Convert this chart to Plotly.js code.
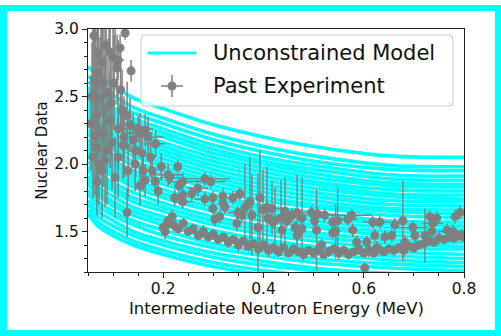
<!DOCTYPE html>
<html><head><meta charset="utf-8">
<script src="https://cdn.plot.ly/plotly-3.0.1.min.js"></script>
<style>
html,body{margin:0;padding:0;background:#fff;}
#wrap{position:relative;width:501px;height:336px;overflow:hidden;}
#chart{width:501px;height:336px;}
#frame{position:absolute;left:0;top:5px;width:501px;height:331px;box-sizing:border-box;border:6px solid #00ffff;border-left-width:7px;pointer-events:none;}
</style>
</head><body><div id="wrap"><div id="chart"></div><div id="frame"></div></div>
<script>
// ---- Data ----
const modelX = [0.05,0.07,0.10,0.14,0.20,0.30,0.40,0.50,0.65,0.80];
const modelCurves = [
 [1.63,1.54,1.47,1.40,1.33,1.24,1.18,1.14,1.10,1.08],
 [1.66,1.57,1.50,1.43,1.36,1.27,1.21,1.17,1.13,1.11],
 [1.70,1.61,1.54,1.47,1.40,1.31,1.25,1.21,1.16,1.14],
 [1.73,1.65,1.58,1.50,1.43,1.34,1.28,1.23,1.19,1.17],
 [1.78,1.69,1.62,1.55,1.47,1.38,1.32,1.27,1.23,1.21],
 [1.81,1.72,1.65,1.58,1.51,1.41,1.35,1.30,1.26,1.24],
 [1.85,1.77,1.69,1.62,1.55,1.45,1.38,1.34,1.29,1.27],
 [1.88,1.80,1.72,1.65,1.58,1.48,1.41,1.37,1.32,1.30],
 [1.91,1.83,1.76,1.68,1.61,1.51,1.44,1.39,1.35,1.33],
 [1.95,1.87,1.80,1.72,1.65,1.55,1.48,1.43,1.38,1.37],
 [1.98,1.90,1.83,1.75,1.68,1.58,1.51,1.46,1.41,1.39],
 [2.02,1.94,1.86,1.79,1.71,1.61,1.54,1.49,1.44,1.42],
 [2.06,1.98,1.91,1.83,1.75,1.65,1.58,1.53,1.47,1.46],
 [2.09,2.01,1.94,1.86,1.78,1.68,1.61,1.55,1.50,1.49],
 [2.12,2.04,1.97,1.89,1.81,1.71,1.64,1.58,1.53,1.51],
 [2.15,2.08,2.00,1.92,1.85,1.74,1.67,1.61,1.56,1.54],
 [2.18,2.11,2.03,1.95,1.88,1.77,1.69,1.64,1.58,1.57],
 [2.22,2.15,2.07,1.99,1.92,1.81,1.73,1.68,1.62,1.60],
 [2.25,2.18,2.11,2.02,1.95,1.84,1.76,1.70,1.65,1.63],
 [2.29,2.21,2.14,2.06,1.98,1.87,1.79,1.73,1.67,1.66],
 [2.32,2.25,2.17,2.09,2.01,1.90,1.82,1.76,1.70,1.69],
 [2.35,2.28,2.20,2.12,2.04,1.93,1.85,1.79,1.73,1.72],
 [2.38,2.31,2.23,2.15,2.07,1.96,1.88,1.82,1.76,1.74],
 [2.41,2.34,2.27,2.18,2.10,1.99,1.91,1.85,1.78,1.77],
 [2.44,2.38,2.30,2.21,2.13,2.02,1.94,1.87,1.81,1.80],
 [2.47,2.41,2.33,2.24,2.16,2.05,1.97,1.90,1.84,1.83],
 [2.50,2.44,2.36,2.27,2.20,2.08,2.00,1.93,1.86,1.85],
 [2.54,2.47,2.39,2.31,2.23,2.11,2.02,1.96,1.89,1.88],
 [2.57,2.50,2.42,2.34,2.26,2.14,2.05,1.99,1.92,1.91],
 [2.61,2.55,2.47,2.38,2.30,2.18,2.09,2.02,1.96,1.95],
 [2.65,2.59,2.51,2.42,2.34,2.22,2.13,2.06,1.99,1.98],
 [2.72,2.66,2.58,2.49,2.41,2.29,2.20,2.13,2.06,2.05]
];

// Past experiment: low-energy cluster
const lowX = [0.124,0.114,0.100,0.110,0.136,0.108,0.094,0.070,0.084,0.070,0.064,0.080,0.090,0.074,0.084,0.118,0.068,0.094,0.128,0.134,0.110,0.080,0.154,0.164,0.170,0.140,0.120,0.098,0.064,0.068,0.068,0.128,0.154,0.164,0.178,0.184,0.210,0.204,0.210,0.218,0.158,0.110,0.084,0.130,0.104,0.078,0.144,0.060,0.066,0.076,0.086,0.092,0.104,0.062,0.058,0.056,0.060,0.072,0.088,0.096,0.102,0.078,0.115,0.122,0.145,0.160,0.190,0.175,0.185,0.196,0.150];
const lowY = [2.97,2.86,2.79,2.77,2.69,2.71,2.83,2.82,2.88,2.68,2.63,2.60,2.53,2.49,2.41,2.40,2.36,2.32,2.36,2.29,2.26,2.23,2.23,2.25,2.20,2.18,2.14,2.16,2.21,2.12,1.87,1.64,1.84,1.88,1.95,1.87,1.92,1.50,1.56,1.61,2.08,2.05,2.03,1.95,1.90,1.95,2.00,3.10,3.20,3.05,3.15,3.30,3.10,2.95,2.50,2.30,2.05,2.00,2.10,2.45,2.60,2.75,2.55,2.20,2.10,1.95,1.80,2.05,2.15,1.98,2.26];
const lowErrY = [0.05,0.10,0.30,0.15,0.08,0.25,0.35,0.40,0.40,0.45,0.50,0.45,0.40,0.45,0.40,0.30,0.50,0.35,0.25,0.20,0.30,0.40,0.15,0.12,0.15,0.20,0.25,0.35,0.45,0.40,0.25,0.18,0.15,0.12,0.10,0.10,0.08,0.06,0.05,0.05,0.20,0.30,0.35,0.20,0.30,0.35,0.20,0.60,0.70,0.50,0.60,0.50,0.40,0.60,0.40,0.35,0.30,0.30,0.40,0.40,0.35,0.40,0.30,0.30,0.20,0.15,0.10,0.15,0.10,0.10,0.10];
const lowErrX = [0,0,0,0.012,0,0,0,0,0,0,0,0,0,0,0,0,0,0,0,0.02,0,0,0.025,0,0.03,0,0,0,0,0,0,0,0,0,0,0,0.03,0,0,0,0,0,0,0,0,0,0,0,0,0,0,0,0,0,0,0,0,0,0,0,0,0,0,0,0,0,0,0,0.02,0,0.03];

// Past experiment: dense high-resolution set
const denseX = [0.20,0.21,0.22,0.23,0.24,0.25,0.26,0.27,0.28,0.29,0.30,0.31,0.32,0.33,0.34,0.35,0.36,0.37,0.38,0.39,0.40,0.41,0.42,0.43,0.44,0.45,0.46,0.47,0.48,0.49,0.50,0.51,0.52,0.53,0.54,0.55,0.56,0.57,0.58,0.59,0.60,0.61,0.62,0.63,0.64,0.65,0.66,0.67,0.68,0.69,0.70,0.71,0.72,0.73,0.74,0.75,0.76,0.77,0.78,0.79,0.80];
const denseY = [1.53,1.58,1.55,1.52,1.56,1.50,1.52,1.47,1.50,1.46,1.48,1.44,1.46,1.42,1.44,1.40,1.43,1.39,1.41,1.37,1.40,1.36,1.38,1.35,1.38,1.34,1.37,1.35,1.33,1.36,1.34,1.36,1.33,1.35,1.37,1.34,1.36,1.33,1.35,1.37,1.34,1.36,1.34,1.37,1.35,1.37,1.36,1.38,1.36,1.39,1.38,1.40,1.41,1.43,1.42,1.45,1.44,1.46,1.45,1.47,1.46];
const denseErrY = [0.04,0.03,0.05,0.03,0.04,0.02,0.04,0.03,0.05,0.03,0.04,0.03,0.02,0.04,0.03,0.05,0.03,0.04,0.02,0.04,0.03,0.05,0.03,0.04,0.03,0.02,0.04,0.03,0.05,0.03,0.04,0.03,0.02,0.04,0.03,0.05,0.03,0.04,0.02,0.04,0.03,0.05,0.03,0.04,0.03,0.02,0.04,0.03,0.05,0.03,0.04,0.03,0.02,0.04,0.03,0.05,0.03,0.04,0.02,0.04,0.03];

// Past experiment: sparse older measurements
const sparseX = [0.229,0.239,0.283,0.295,0.231,0.269,0.257,0.239,0.223,0.239,0.299,0.283,0.319,0.339,0.353,0.373,0.393,0.319,0.323,0.299,0.349,0.357,0.303,0.313,0.347,0.407,0.417,0.409,0.419,0.389,0.443,0.457,0.467,0.447,0.463,0.467,0.437,0.477,0.496,0.502,0.506,0.213,0.508,0.522,0.538,0.548,0.568,0.576,0.538,0.578,0.516,0.586,0.606,0.618,0.632,0.622,0.642,0.626,0.602,0.662,0.678,0.682,0.698,0.702,0.732,0.746,0.738,0.736,0.766,0.782,0.792,0.778,0.796,0.656,0.363,0.377,0.399,0.423,0.435,0.477,0.544,0.722];
const sparseY = [1.98,1.87,1.89,1.87,1.84,1.82,1.78,1.77,1.75,1.72,1.75,1.74,1.76,1.75,1.78,1.72,1.75,1.71,1.68,1.67,1.64,1.62,1.59,1.61,1.56,1.68,1.67,1.60,1.57,1.53,1.65,1.62,1.64,1.58,1.53,1.47,1.51,1.52,1.64,1.58,1.51,1.90,1.63,1.62,1.57,1.58,1.59,1.62,1.49,1.51,1.40,1.42,1.42,1.57,1.57,1.47,1.46,1.38,1.23,1.55,1.58,1.42,1.53,1.47,1.61,1.60,1.56,1.50,1.51,1.61,1.64,1.50,1.47,1.47,1.68,1.62,1.66,1.58,1.60,1.60,1.50,1.47];
const sparseErrY = [0.05,0.06,0.05,0.05,0.05,0.06,0.05,0.05,0.06,0.05,0.05,0.05,0.06,0.05,0.05,0.33,0.35,0.05,0.05,0.05,0.05,0.05,0.05,0.05,0.06,0.30,0.20,0.05,0.05,0.40,0.25,0.05,0.28,0.05,0.05,0.05,0.05,0.05,0.05,0.05,0.30,0.05,0.05,0.05,0.05,0.25,0.05,0.05,0.05,0.05,0.05,0.05,0.05,0.05,0.05,0.05,0.05,0.05,0.04,0.05,0.30,0.05,0.05,0.05,0.05,0.05,0.05,0.05,0.05,0.05,0.05,0.05,0.05,0.05,0.32,0.30,0.30,0.25,0.28,0.30,0.20,0.20];
const sparseErrX = [0,0.03,0.05,0.03,0,0.02,0,0,0,0.02,0,0.02,0,0.02,0,0,0,0,0,0,0.02,0,0,0,0,0,0.02,0,0,0,0,0.03,0,0,0,0,0,0,0.02,0,0,0.02,0,0.03,0,0,0.02,0.04,0,0,0,0,0,0.02,0.02,0,0,0,0,0,0,0,0.03,0,0,0,0.02,0,0,0,0,0.03,0,0,0,0,0,0,0,0,0,0];

const legendLabels = ['Unconstrained Model','Past Experiment'];
const xTitle = 'Intermediate Neutron Energy (MeV)';
const yTitle = 'Nuclear Data';

// ---- Style ----
const CYAN = '#00ffff', GRAY = '#808080';
const W = 501, H = 336, ML = 88, MR = 37, MT = 29, MB = 64;
const PW = W - ML - MR, PH = H - MT - MB;
function px(x){ return (x - ML) / PW; }
function py(y){ return (H - MB - y) / PH; }

const traces = [];
modelCurves.forEach(c => traces.push({
  x: modelX, y: c, type: 'scatter', mode: 'lines',
  line: {color: CYAN, width: 3.6, shape: 'spline', smoothing: 1},
  showlegend: false, hoverinfo: 'skip'
}));
function pts(x, y, ey, ex, lw){
  return {x: x, y: y, type: 'scatter', mode: 'markers',
    marker: {color: GRAY, size: 9, line: {width: 0}},
    error_y: {type: 'data', array: ey, visible: true, color: GRAY, thickness: lw, width: 0},
    error_x: ex ? {type: 'data', array: ex, visible: true, color: GRAY, thickness: lw, width: 0} : undefined,
    showlegend: false, hoverinfo: 'skip'};
}
traces.push(pts(lowX, lowY, lowErrY, lowErrX, 1.5));
traces.push(pts(sparseX, sparseY, sparseErrY, sparseErrX, 1.4));
traces.push(pts(denseX, denseY, denseErrY, null, 1.3));

// custom legend (rounded box)
const bx0 = px(141), bx1 = px(453), by0 = py(106), by1 = py(35);
const rx = 4 / PW, ry = 4 / PH;
const boxPath = `M ${bx0+rx},${by0} L ${bx1-rx},${by0} Q ${bx1},${by0} ${bx1},${by0+ry} L ${bx1},${by1-ry} Q ${bx1},${by1} ${bx1-rx},${by1} L ${bx0+rx},${by1} Q ${bx0},${by1} ${bx0},${by1-ry} L ${bx0},${by0+ry} Q ${bx0},${by0} ${bx0+rx},${by0} Z`;
const mcx = 172, mcy = 86, mr = 4.5;
const shapes = [
  {type: 'path', xref: 'paper', yref: 'paper', path: boxPath, fillcolor: 'rgba(255,255,255,0.8)', line: {color: '#cccccc', width: 1}, layer: 'above'},
  {type: 'line', xref: 'paper', yref: 'paper', x0: px(148), x1: px(196), y0: py(53), y1: py(53), line: {color: CYAN, width: 3}, layer: 'above'},
  {type: 'line', xref: 'paper', yref: 'paper', x0: px(161), x1: px(183), y0: py(mcy), y1: py(mcy), line: {color: GRAY, width: 1.5}, layer: 'above'},
  {type: 'line', xref: 'paper', yref: 'paper', x0: px(mcx), x1: px(mcx), y0: py(mcy - 11), y1: py(mcy + 11), line: {color: GRAY, width: 1.5}, layer: 'above'},
  {type: 'circle', xref: 'paper', yref: 'paper', x0: px(mcx - mr), x1: px(mcx + mr), y0: py(mcy + mr), y1: py(mcy - mr), fillcolor: GRAY, line: {width: 0}, layer: 'above'}
];
const annotations = [
  {xref: 'paper', yref: 'paper', x: px(211), y: py(53), xanchor: 'left', yanchor: 'middle', showarrow: false, text: legendLabels[0], font: {size: 21, color: '#111'}},
  {xref: 'paper', yref: 'paper', x: px(211), y: py(86), xanchor: 'left', yanchor: 'middle', showarrow: false, text: legendLabels[1], font: {size: 21, color: '#111'}},
  {xref: 'paper', yref: 'paper', x: px(276), y: py(308), xanchor: 'center', yanchor: 'middle', showarrow: false, text: xTitle, font: {size: 16.5, color: '#111'}}
];

const axisCommon = {
  showgrid: false, zeroline: false, showline: true, mirror: true,
  linecolor: '#222', linewidth: 1, ticks: 'outside', ticklen: 5, tickwidth: 1, tickcolor: '#222',
  tickfont: {size: 15.5, color: '#111'}
};
const layout = {
  width: W, height: H, margin: {l: ML, r: MR, t: MT, b: MB},
  paper_bgcolor: '#fff', plot_bgcolor: '#fff',
  font: {family: 'DejaVu Sans, sans-serif', color: '#111'},
  showlegend: false,
  xaxis: Object.assign({}, axisCommon, {
    range: [0.05, 0.8], tick0: 0, dtick: 0.2, tickformat: '.1f', ticklabelstandoff: -3,
    minor: {tick0: 0, dtick: 0.05, ticks: 'outside', ticklen: 3, tickcolor: '#222', showgrid: false}
  }),
  yaxis: Object.assign({}, axisCommon, {
    range: [1.2, 3.0], tick0: 0, dtick: 0.5, tickformat: '.1f',
    minor: {tick0: 0, dtick: 0.1, ticks: 'outside', ticklen: 3, tickcolor: '#222', showgrid: false},
    title: {text: yTitle, font: {size: 15, color: '#111'}, standoff: 2}
  }),
  shapes: shapes, annotations: annotations
};
Plotly.newPlot('chart', traces, layout, {staticPlot: true, displayModeBar: false});
</script></body></html>
